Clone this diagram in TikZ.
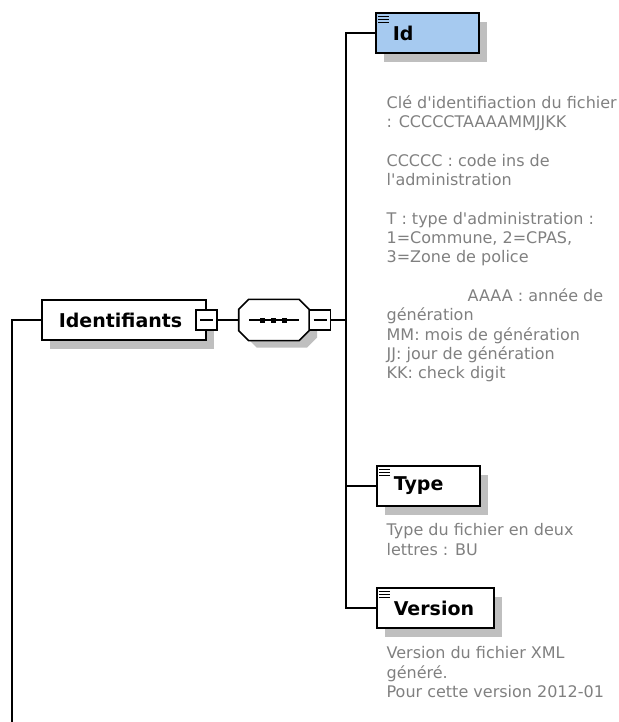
\documentclass[tikz,border=0pt]{standalone}
\usepackage{fontspec}
\setmainfont{DejaVu Sans}
\usetikzlibrary{positioning,shadows}
\definecolor{idblue}{RGB}{166,202,240}
\definecolor{notegray}{RGB}{128,128,128}
\newcommand{\ap}{\textquotesingle}

\begin{document}
\begin{tikzpicture}[x=1pt,y=-1pt,line width=1.3pt,
  elem/.style={draw,line width=1.6pt,fill=white,anchor=west,minimum height=40pt,
    inner xsep=17pt,align=left,font=\bfseries\fontsize{19}{22}\selectfont,
    drop shadow={shadow xshift=8pt,shadow yshift=-9pt,fill=black!25,opacity=1}},
  btn/.style={draw,fill=white,minimum width=21pt,minimum height=20pt,inner sep=0pt,
    path picture={\draw ([xshift=4pt]path picture bounding box.west)
      -- ([xshift=-4pt]path picture bounding box.east);}},
  seqbox/.style={minimum width=69pt,minimum height=40pt,inner sep=0pt},
  octo/.style={draw,line width=1.6pt,fill=white,
    drop shadow={shadow xshift=8pt,shadow yshift=-7pt,fill=black!25,opacity=1}},
  note/.style={anchor=north west,inner sep=0pt,align=left,text=notegray,
    font=\fontsize{16}{19.3}\selectfont}]

\useasboundingbox (0,0) rectangle (618,722);

% group
\node[elem,text width=130pt] (ident) at (41,320) {Identifiants};
\node[btn] (identbtn) at (ident.east) {};
\node[seqbox,right=21pt of identbtn] (seq) {};
\filldraw[octo] ([xshift=10pt]seq.north west) -- ([xshift=-10pt]seq.north east)
  -- ([yshift=-10pt]seq.north east) -- ([yshift=10pt]seq.south east)
  -- ([xshift=-10pt]seq.south east) -- ([xshift=10pt]seq.south west)
  -- ([yshift=10pt]seq.south west) -- ([yshift=-10pt]seq.north west) -- cycle;
\node[btn,anchor=west] (seqbtn) at (seq.east) {};
\draw ([xshift=-24.5pt]seq.center) -- ([xshift=25.5pt]seq.center);
\foreach \dx in {-11.5,-0.5,10.5}
  \fill ([xshift=\dx pt]seq.center) +(-2.5,-2.5) rectangle +(2.5,2.5);

% elements
\node[elem,fill=idblue,text width=69pt] (id) at (375,33) {Id};
\node[elem,text width=69pt] (type) at (376,486) {Type};
\node[elem,text width=83pt] (version) at (376,608) {Version};
\foreach \n in {id,type,version}
  \foreach \k in {0,1,2}
    \draw[line width=1.2pt] ([shift={(3,4+3*\k)}]\n.north west) -- ++(11,0);

% connectors
\coordinate (bus) at (346,320);
\coordinate (down) at (12,722);
\draw (down) |- (ident.west);
\draw (identbtn) -- (seq);
\draw (seqbtn) -- (seqbtn -| bus);
\draw (id.west) -| (bus) |- (version.west);
\draw (type.west) -- (type.west -| bus);

% annotations
\node[note] (iddoc) at (386,95) {Clé d\ap identifiaction du fichier\\
  : CCCCCTAAAAMMJJKK\\[19.3pt]
  CCCCC : code ins de\\
  l\ap administration\\[19.3pt]
  T : type d\ap administration :\\
  1=Commune, 2=CPAS,\\
  3=Zone de police\\[19.3pt]
  \hspace*{81pt}AAAA : année de\\
  génération\\
  MM: mois de génération\\
  JJ: jour de génération\\
  KK: check digit};
\node[note] (typedoc) at (386,523) {Type du fichier en deux\\lettres : BU};
\node[note] (versiondoc) at (386,646) {Version du fichier XML\\généré.\\
  Pour cette version 2012-01};

\end{tikzpicture}
\end{document}
